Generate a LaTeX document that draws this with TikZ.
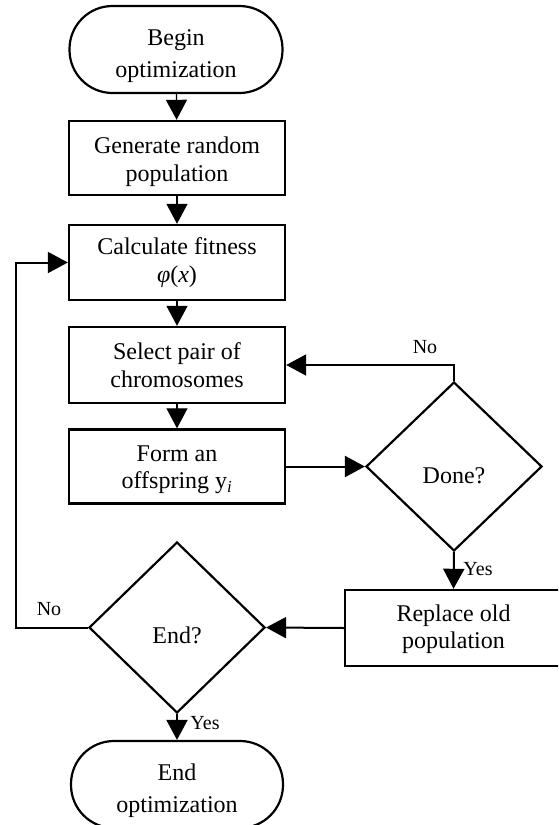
\documentclass[tikz,border=0pt]{standalone}
\usepackage{fontspec}
\setmainfont{Liberation Serif}
\usetikzlibrary{shapes.geometric,arrows.meta}
\tikzset{
  box/.style={draw,line width=2.4pt,minimum width=216pt,minimum height=75pt,inner sep=0pt,align=center,font=\fontsize{24}{27.5}\selectfont},
  term/.style={draw,line width=2.2pt,rounded corners=43pt,minimum width=213pt,minimum height=87pt,inner sep=0pt,align=center,font=\fontsize{24}{32}\selectfont},
  dec/.style={draw,diamond,line width=2.2pt,inner sep=0pt,font=\fontsize{24}{27.5}\selectfont},
  conn/.style={line width=2pt,-{Triangle[length=20pt,width=21pt]}},
  thinconn/.style={conn,line width=1.3pt},
  lab/.style={font=\fontsize{20}{22}\selectfont,inner sep=0pt}
}
\begin{document}
\begin{tikzpicture}[x=1pt,y=-1pt]
\useasboundingbox (0,0) rectangle (558,825);
\clip (0,0) rectangle (558,825);
\node[term] (begin) at (176,49.5) {\rule{0pt}{30pt}Begin\\optimization};
\node[box,minimum height=74pt] (gen) at (177,158) {\rule{0pt}{24.5pt}Generate random\\population};
\node[box] (calc) at (177,262.5) {Calculate fitness\\{\itshape φ}({\itshape x})};
\node[box,minimum height=76pt] (sel) at (177,365) {Select pair of\\chromosomes};
\node[box,minimum height=74pt] (form) at (177,466.5) {\rule{0pt}{22pt}Form an\\offspring y\textsubscript{\itshape i}};
\node[dec,minimum width=176pt,minimum height=169pt] (done) at (454,466.5) {\raisebox{-16.5pt}[0pt][0pt]{Done?}};
\node[box,minimum width=217pt,minimum height=76pt] (repl) at (453.5,628) {\rule{0pt}{19pt}Replace old\\population};
\node[dec,minimum width=176pt,minimum height=171pt] (endq) at (177,627.5) {\raisebox{-16pt}[0pt][0pt]{End?}};
\node[term,minimum width=212pt] (endt) at (177,784.5) {\rule{0pt}{30pt}End\\optimization};
\coordinate (lp) at (16,262.5);

\draw[thinconn] (begin) -- (gen);
\draw[thinconn] (gen) -- (calc);
\draw[thinconn] (calc) -- (sel);
\draw[thinconn] (sel) -- (form);
\draw[conn] (form.east) -- (done.west);
\draw[conn] (done.north) |- (sel.east);
\draw[conn] (done.south) -- (repl.north);
\draw[conn] (repl.west) -- (endq.east);
\draw[conn] (endq.west) -| (lp) -- (calc.west);
\draw[conn] (endq.south) -- (endt.north);

\node[lab] (no1) at (425,347) {No};
\node[lab] (yes1) at (478,569) {Yes};
\node[lab] (no2) at (49,609) {No};
\node[lab] (yes2) at (205,723) {Yes};
\end{tikzpicture}
\end{document}
